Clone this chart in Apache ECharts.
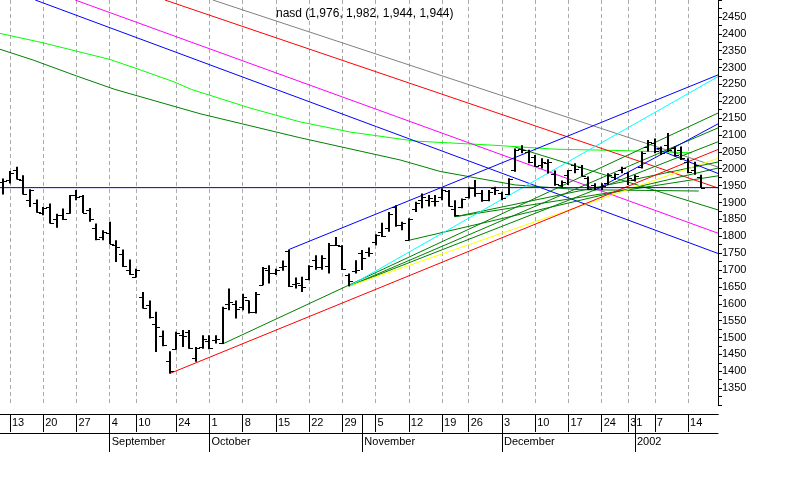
<!DOCTYPE html>
<html lang="en">
<head>
<meta charset="UTF-8">
<title>nasd</title>
<script src="https://cdn.jsdelivr.net/npm/echarts@6/dist/echarts.min.js"></script>
<style>
  html, body { margin: 0; padding: 0; background: #fff; }
  #chart { width: 800px; height: 500px; }
</style>
</head>
<body>
<div id="chart"></div>
<script>
// trading days, Aug 10 2001 .. Jan 18 2002 (day of month)
var days = [10, 13, 14, 15, 16, 17, 20, 21, 22, 23, 24, 27, 28, 29, 30, 31,
  4, 5, 6, 7, 10, 17, 18, 19, 20, 21, 24, 25, 26, 27, 28,
  1, 2, 3, 4, 5, 8, 9, 10, 11, 12, 15, 16, 17, 18, 19, 22, 23, 24, 25, 26, 29, 30, 31,
  1, 2, 5, 6, 7, 8, 9, 12, 13, 14, 15, 16, 19, 20, 21, 23, 26, 27, 28, 29, 30,
  3, 4, 5, 6, 7, 10, 11, 12, 13, 14, 17, 18, 19, 20, 21, 24, 26, 27, 28, 31,
  2, 3, 4, 7, 8, 9, 10, 11, 14, 15, 16, 17, 18];
var weekTicks = [1, 6, 11, 16, 20, 26, 31, 36, 41, 46, 51, 56, 61, 66, 70, 75, 80, 85, 90, 94, 98, 103];
var monthTicks = [16, 31, 54, 75, 95];
var monthNames = ['September', 'October', 'November', 'December', '2002'];

var opens = [1961, 1968, 1996, 1968, 1907, 1900, 1870, 1887, 1850, 1863, 1869, 1922, 1919, 1879, 1823, 1798,
  1810, 1774, 1746, 1701, 1680, 1620, 1596, 1540, 1504, 1430, 1465, 1508, 1515, 1440, 1473,
  1490, 1492, 1483, 1600, 1600, 1590, 1610, 1576, 1655, 1700, 1690, 1709, 1755, 1660, 1655, 1672, 1729, 1708, 1712, 1775, 1772, 1685, 1698,
  1750, 1754, 1783, 1813, 1823, 1887, 1833, 1790, 1880, 1907, 1907, 1905, 1917, 1935, 1880, 1888, 1917, 1942, 1927, 1907, 1942,
  1927, 1924, 1996, 2060, 2051, 2036, 2011, 2016, 1985, 1952, 1982, 2011, 2006, 1972, 1952, 1947, 1957, 1977, 1996, 1987,
  1967, 2006, 2065, 2075, 2061, 2070, 2061, 2056, 2021, 1996, 1976];
var highs = [1971, 1993, 2006, 1981, 1939, 1909, 1887, 1897, 1867, 1882, 1922, 1937, 1922, 1884, 1838, 1818,
  1843, 1788, 1761, 1731, 1704, 1635, 1610, 1576, 1521, 1459, 1517, 1522, 1522, 1472, 1507,
  1507, 1507, 1591, 1645, 1610, 1630, 1610, 1635, 1709, 1714, 1704, 1728, 1761, 1678, 1680, 1714, 1744, 1744, 1780, 1798, 1773, 1690, 1729,
  1759, 1767, 1806, 1840, 1872, 1892, 1843, 1853, 1902, 1927, 1922, 1922, 1942, 1937, 1907, 1912, 1947, 1967, 1937, 1937, 1947,
  1932, 1972, 2060, 2070, 2056, 2041, 2031, 2028, 1995, 1965, 1996, 2016, 2011, 1977, 1957, 1957, 1987, 1987, 2006, 1991,
  1982, 2051, 2085, 2090, 2066, 2106, 2066, 2066, 2031, 2021, 1982];
var lows = [1924, 1956, 1968, 1924, 1887, 1870, 1862, 1838, 1825, 1848, 1867, 1907, 1869, 1843, 1788, 1788,
  1776, 1724, 1709, 1685, 1678, 1586, 1556, 1457, 1474, 1393, 1464, 1472, 1467, 1428, 1467,
  1465, 1482, 1481, 1581, 1556, 1581, 1571, 1571, 1655, 1660, 1685, 1698, 1650, 1645, 1635, 1670, 1701, 1701, 1690, 1771, 1700, 1652, 1690,
  1700, 1739, 1773, 1798, 1813, 1828, 1818, 1788, 1872, 1883, 1888, 1888, 1907, 1888, 1858, 1883, 1912, 1917, 1902, 1904, 1922,
  1907, 1922, 1991, 2046, 2016, 2006, 2001, 1986, 1950, 1944, 1952, 1987, 1977, 1937, 1937, 1937, 1952, 1967, 1987, 1952,
  1962, 2001, 2051, 2046, 2041, 2050, 2036, 2026, 1987, 1982, 1944];
var closes = [1963, 1988, 1969, 1925, 1937, 1872, 1885, 1840, 1863, 1850, 1921, 1917, 1870, 1851, 1793, 1813,
  1776, 1767, 1711, 1689, 1701, 1586, 1561, 1532, 1478, 1402, 1512, 1505, 1468, 1470, 1497,
  1470, 1497, 1586, 1605, 1585, 1620, 1575, 1630, 1706, 1690, 1700, 1711, 1652, 1662, 1650, 1712, 1709, 1735, 1773, 1773, 1702, 1668, 1700,
  1735, 1749, 1803, 1800, 1867, 1833, 1838, 1850, 1898, 1917, 1912, 1905, 1937, 1890, 1862, 1910, 1944, 1927, 1907, 1932, 1937,
  1912, 1970, 2056, 2056, 2021, 2009, 2021, 2020, 1955, 1960, 1996, 1999, 1980, 1940, 1947, 1950, 1982, 1984, 2001, 1972,
  1980, 2046, 2080, 2053, 2046, 2056, 2041, 2031, 1991, 2011, 1944];

// trend lines: [bar index, value] end points
var lastLine = [[-0.5, 1944], [107.5, 1944]];
var redUp = [[25, 1393], [107.5, 2057]];
var blueChannel = [[43, 1761], [107.5, 2278]];
var cyanFan = [[52, 1652], [107.5, 2273]];
var greenOct = [[33, 1481], [107.5, 2165]];
var greenFanB = [[52, 1652], [107.5, 2121]];
var greenFanC = [[52, 1652], [107.5, 2080]];
var yellowFan = [[52, 1652], [107.5, 2031]];
var greenNov12 = [[61, 1788], [107.5, 2002]];
var greenNov21a = [[68, 1858], [107.5, 2020]];
var greenNov21b = [[68, 1858], [107.5, 1979]];
var blueDec = [[89, 1937], [107.5, 2133]];
var blueJan = [[98, 2061], [107.5, 1986]];
var greenDec = [[77, 2064], [107.5, 1878]];
var grayDown = [[31.5, 2500], [107.5, 2005]];
var redDown = [[24.3, 2500], [107.5, 1943]];
var magentaDown = [[10.8, 2500], [107.5, 1809]];
var blueDown = [[4.8, 2500], [107.5, 1749]];
var limeAvg = [[-0.5, 2401], [5.8, 2374], [16, 2324], [20.6, 2293], [25.6, 2258], [28.3, 2235], [37.1, 2180],
  [44.6, 2139], [52.1, 2109], [61.9, 2082], [73.5, 2070], [83, 2058], [92.8, 2054], [103.6, 2047]];
var greenAvg = [[-0.5, 2354], [4.5, 2322], [11, 2275], [16.8, 2235], [29.6, 2163], [44.6, 2092], [59.7, 2026],
  [65.7, 1992], [77, 1952], [86.7, 1938], [104.6, 1934]];

var fmt = function (v) { return v.toLocaleString('en-US'); };
var n = closes.length - 1;
var titleText = 'nasd (' + [opens[n], highs[n], lows[n], closes[n]].map(fmt).join(', ') + ')';

var ohlc = opens.map(function (o, i) { return [i, o, highs[i], lows[i], closes[i]]; });

function isIn(list) {
  return function (idx) { return list.indexOf(idx) >= 0; };
}

function lineSeries(pts, color, z) {
  return {
    type: 'line', xAxisIndex: 1, data: pts, showSymbol: false, silent: true,
    lineStyle: { color: color, width: 1 }, z: z || 2
  };
}

var chart = echarts.init(document.getElementById('chart'));
var option = {
  animation: false,
  backgroundColor: '#fff',
  title: {
    text: titleText, left: 271, top: 3,
    textStyle: { fontFamily: 'Liberation Sans', fontSize: 12, fontWeight: 'normal', color: '#000' }
  },
  grid: { left: 0, top: 0, width: 718, height: 405, outerBoundsMode: 'none', containLabel: false },
  xAxis: [
    {
      type: 'category', data: days, boundaryGap: true, position: 'bottom', offset: 9,
      axisLine: { show: true, onZero: false, lineStyle: { color: '#000', width: 1 } },
      axisTick: { show: true, alignWithLabel: true, interval: isIn(weekTicks), length: 18, lineStyle: { color: '#000' } },
      axisLabel: {
        show: true, interval: isIn(weekTicks), align: 'left', margin: 3, padding: [0, 0, 0, 2],
        fontFamily: 'Liberation Sans', fontSize: 11, color: '#000'
      },
      splitLine: {
        show: true, alignWithLabel: true, interval: isIn(weekTicks),
        lineStyle: { color: '#aaaaaa', type: [4, 3], width: 1 }
      }
    },
    {
      type: 'value', min: -0.5, max: 107.5, position: 'bottom', show: false
    },
    {
      type: 'category', data: days, boundaryGap: true, position: 'bottom', offset: 9,
      axisLine: { show: true, onZero: false, lineStyle: { color: '#000', width: 1 } },
      axisTick: { show: true, alignWithLabel: true, interval: isIn(monthTicks), length: 38, lineStyle: { color: '#000' } },
      axisLabel: {
        show: true, interval: isIn(monthTicks), align: 'left', margin: 22, padding: [0, 0, 0, 2],
        fontFamily: 'Liberation Sans', fontSize: 11, color: '#000',
        formatter: function (v, idx) { return monthNames[monthTicks.indexOf(idx)] || ''; }
      },
      splitLine: { show: false }
    },
    {
      type: 'category', data: days, position: 'bottom', offset: 28,
      axisLine: { show: true, onZero: false, lineStyle: { color: '#000', width: 1 } },
      axisTick: { show: false }, axisLabel: { show: false }, splitLine: { show: false }
    }
  ],
  yAxis: {
    type: 'value', position: 'right', min: 1300, max: 2500, interval: 50,
    axisLine: { show: true, onZero: false, lineStyle: { color: '#000' } },
    axisTick: { show: true, length: 4, lineStyle: { color: '#000' } },
    minorTick: { show: true, splitNumber: 2, length: 4, lineStyle: { color: '#000' } },
    splitLine: { show: false },
    minorSplitLine: { show: false },
    axisLabel: {
      margin: 4, fontFamily: 'Liberation Sans', fontSize: 11, color: '#000',
      formatter: function (v) { return (v <= 1300 || v >= 2500) ? '' : String(v); }
    }
  },
  series: [
    lineSeries(limeAvg, '#00ff00'),
    lineSeries(greenAvg, '#008000'),
    lineSeries(blueDown, '#0000ff'),
    lineSeries(magentaDown, '#ff00ff'),
    lineSeries(redDown, '#ff0000'),
    lineSeries(grayDown, '#808080'),
    lineSeries(greenDec, '#008000'),
    lineSeries(greenNov12, '#008000'),
    lineSeries(greenNov21a, '#008000'),
    lineSeries(greenNov21b, '#008000'),
    lineSeries(greenOct, '#008000'),
    lineSeries(greenFanB, '#008000'),
    lineSeries(greenFanC, '#008000'),
    lineSeries(yellowFan, '#ffff00'),
    lineSeries(cyanFan, '#00ffff'),
    lineSeries(redUp, '#ff0000'),
    lineSeries(blueChannel, '#0000ff'),
    lineSeries(blueDec, '#0000ff'),
    lineSeries(blueJan, '#0000ff'),
    lineSeries(lastLine, '#0000cc', 3),
    {
      type: 'custom', xAxisIndex: 0, data: ohlc, silent: true, z: 5,
      encode: { x: 0, y: [1, 2, 3, 4] },
      renderItem: function (params, api) {
        var i = api.value(0);
        var x = Math.round(api.coord([i, api.value(1)])[0]);
        var yo = Math.round(api.coord([i, api.value(1)])[1]) + 0.5;
        var yh = api.coord([i, api.value(2)])[1];
        var yl = api.coord([i, api.value(3)])[1];
        var yc = Math.round(api.coord([i, api.value(4)])[1]) + 0.5;
        return {
          type: 'group',
          children: [
            { type: 'line', shape: { x1: x, y1: yh, x2: x, y2: yl }, style: { stroke: '#000', lineWidth: 2 } },
            { type: 'line', shape: { x1: x - 4, y1: yo, x2: x, y2: yo }, style: { stroke: '#000', lineWidth: 1 } },
            { type: 'line', shape: { x1: x, y1: yc, x2: x + 4, y2: yc }, style: { stroke: '#000', lineWidth: 1 } }
          ]
        };
      }
    }
  ]
};
chart.setOption(option);
window.addEventListener('resize', function () { chart.resize(); });
</script>
</body>
</html>
